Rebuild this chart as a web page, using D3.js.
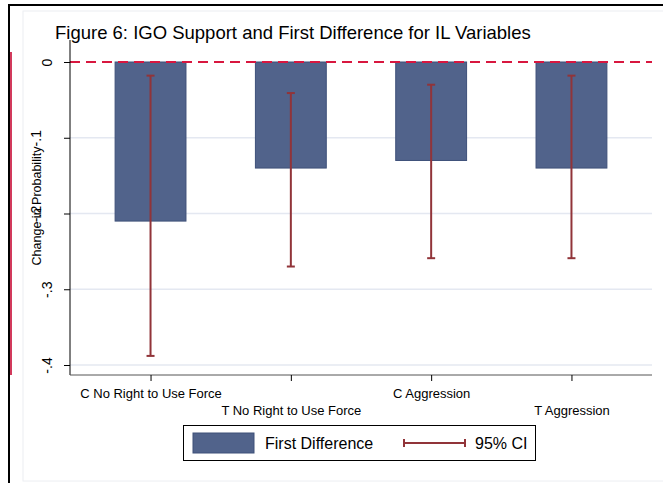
<!DOCTYPE html>
<html>
<head>
<meta charset="utf-8">
<script src="https://cdn.jsdelivr.net/npm/d3@7"></script>
<style>
  body { margin: 0; background: #fff; }
  text { font-family: Arial, "Liberation Sans", sans-serif; }
</style>
</head>
<body>
<div id="chart"></div>
<script>
// data
let categories = ["C No Right to Use Force", "T No Right to Use Force", "C Aggression", "T Aggression"];
let firstDiff = [-0.21, -0.14, -0.13, -0.14];
let ciUpper = [-0.018, -0.041, -0.030, -0.018];
let ciLower = [-0.388, -0.270, -0.259, -0.259];
let yTicks = [0, -0.1, -0.2, -0.3, -0.4];
let yTickLabels = ["0", "-.1", "-.2", "-.3", "-.4"];

let data = categories.map(function (c, i) {
  return { cat: c, fd: firstDiff[i], hi: ciUpper[i], lo: ciLower[i], row: i % 2 };
});

let svgWidth = 663, svgHeight = 483;
let svg = d3.select("#chart").append("svg")
  .attr("width", svgWidth)
  .attr("height", svgHeight);

// frame around the embedded graph
svg.append("rect").attr("x", 23).attr("y", 11).attr("width", 660).attr("height", 470)
  .attr("fill", "#fff").attr("stroke", "#eceef2").attr("stroke-width", 1);
svg.append("line").attr("x1", 8).attr("x2", 663).attr("y1", 5).attr("y2", 5)
  .attr("stroke", "#000").attr("stroke-width", 2);
svg.append("line").attr("x1", 9).attr("x2", 9).attr("y1", 4).attr("y2", 483)
  .attr("stroke", "#000").attr("stroke-width", 2);
svg.append("line").attr("x1", 11).attr("x2", 11).attr("y1", 52).attr("y2", 375)
  .attr("stroke", "#d23a5c").attr("stroke-width", 2);

let plotLeft = 70, plotRight = 652, plotTop = 62, plotBottom = 375;

let x = d3.scalePoint()
  .domain(categories)
  .range([plotLeft, plotRight])
  .padding(0.574);
let step = x.step();
let barW = step * 0.505;

let y = d3.scaleLinear()
  .domain([0, -0.4])
  .range([plotTop, 365]);

// gridlines
svg.append("g").selectAll("line")
  .data(yTicks.slice(1))
  .enter().append("line")
  .attr("x1", plotLeft).attr("x2", plotRight)
  .attr("y1", d => y(d)).attr("y2", d => y(d))
  .attr("stroke", "#e4e8f1").attr("stroke-width", 1.5);

// bars
svg.append("g").selectAll("rect")
  .data(data)
  .enter().append("rect")
  .attr("x", d => x(d.cat) - barW / 2)
  .attr("y", y(0))
  .attr("width", barW)
  .attr("height", d => y(d.fd) - y(0))
  .attr("fill", "#51638b")
  .attr("stroke", "#3e5079")
  .attr("stroke-width", 1);

// zero reference line
svg.append("line")
  .attr("x1", plotLeft).attr("x2", plotRight)
  .attr("y1", y(0)).attr("y2", y(0))
  .attr("stroke", "#d8173f").attr("stroke-width", 2)
  .attr("stroke-dasharray", "10,6");

// CI whiskers
let ci = svg.append("g").selectAll("g")
  .data(data)
  .enter().append("g")
  .attr("stroke", "#913439").attr("stroke-width", 2);
ci.append("line")
  .attr("x1", d => x(d.cat)).attr("x2", d => x(d.cat))
  .attr("y1", d => y(d.hi)).attr("y2", d => y(d.lo));
ci.append("line")
  .attr("x1", d => x(d.cat) - 4).attr("x2", d => x(d.cat) + 4)
  .attr("y1", d => y(d.hi)).attr("y2", d => y(d.hi));
ci.append("line")
  .attr("x1", d => x(d.cat) - 4).attr("x2", d => x(d.cat) + 4)
  .attr("y1", d => y(d.lo)).attr("y2", d => y(d.lo));

// y axis (the -.1 and -.2 labels sit further left, over the title, as in the original)
let labelOffset = [-18, -29, -29, -18, -18];
let yAxis = svg.append("g")
  .attr("transform", "translate(" + plotLeft + ",0)")
  .call(d3.axisLeft(y).tickValues(yTicks).tickSize(6)
    .tickFormat((d, i) => yTickLabels[i]));
yAxis.select(".domain").attr("stroke", "#000").attr("d", "M0," + (plotTop - 22) + "V" + plotBottom);
yAxis.selectAll(".tick line").attr("stroke", "#000");
yAxis.selectAll(".tick text")
  .attr("x", 0).attr("y", 0).attr("dy", 0)
  .attr("transform", (d, i) => "translate(" + labelOffset[i] + ",0) rotate(-90)")
  .attr("text-anchor", "middle")
  .attr("font-size", 14)
  .attr("fill", "#000");

// x axis
let xAxis = svg.append("g")
  .attr("transform", "translate(0," + plotBottom + ")")
  .call(d3.axisBottom(x).tickSize(6));
xAxis.select(".domain").attr("stroke", "#555").attr("d", "M" + plotLeft + ",0H" + plotRight);
xAxis.selectAll(".tick line").attr("stroke", "#000");
xAxis.selectAll(".tick text")
  .attr("y", (d, i) => i % 2 === 0 ? 22.5 : 39.5)
  .attr("dy", "0")
  .attr("font-size", 13)
  .attr("fill", "#000");

// axis title
svg.append("text")
  .attr("transform", "translate(41," + 206 + ") rotate(-90)")
  .attr("text-anchor", "middle")
  .attr("font-size", 12.5)
  .text("Change in Probability");

// title
svg.append("text")
  .attr("x", 55).attr("y", 39)
  .attr("font-size", 18.5)
  .text("Figure 6: IGO Support and First Difference for IL Variables");

// legend
let lg = svg.append("g");
lg.append("rect").attr("x", 183.5).attr("y", 425.5).attr("width", 352).attr("height", 35)
  .attr("fill", "#fff").attr("stroke", "#000").attr("stroke-width", 1);
lg.append("rect").attr("x", 193).attr("y", 433).attr("width", 61).attr("height", 20)
  .attr("fill", "#51638b").attr("stroke", "#3e5079");
lg.append("text").attr("x", 265).attr("y", 449).attr("font-size", 16).text("First Difference");
lg.append("line").attr("x1", 404).attr("x2", 465).attr("y1", 443).attr("y2", 443)
  .attr("stroke", "#913439").attr("stroke-width", 2);
lg.append("line").attr("x1", 404).attr("x2", 404).attr("y1", 439).attr("y2", 447)
  .attr("stroke", "#913439").attr("stroke-width", 2);
lg.append("line").attr("x1", 465).attr("x2", 465).attr("y1", 439).attr("y2", 447)
  .attr("stroke", "#913439").attr("stroke-width", 2);
lg.append("text").attr("x", 475).attr("y", 449).attr("font-size", 16).text("95% CI");
</script>
</body>
</html>
